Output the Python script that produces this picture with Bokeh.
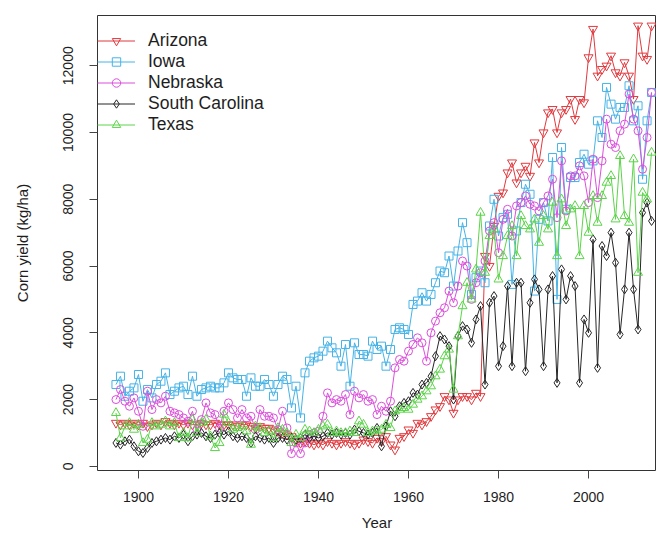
from bokeh.plotting import figure
from bokeh.models import Range1d, FixedTicker
from bokeh.embed import file_html
from bokeh.resources import INLINE

YEARS = list(range(1895, 2015))

ARIZONA = [
    1300, 1250, 1300, 1250, 1300, 1250, 1300, 1200, 1250, 1300,
    1250, 1350, 1300, 1250, 1300, 1250, 1300, 1250, 1250, 1300,
    1250, 1250, 1300, 1250, 1250, 1250, 1250, 1200, 1250, 1250,
    1200, 1150, 1200, 1150, 1150, 1100, 1050, 1000, 950, 900,
    750, 700, 750, 700, 650, 700, 650, 750, 700, 650,
    700, 750, 700, 650, 700, 800, 750, 700, 850, 750,
    900, 650, 500, 850, 900, 1100, 1000, 1300, 1250, 1350,
    1500, 1700, 1800, 2100, 2000, 1600, 2000, 2100, 2100, 2000,
    2200, 2100, 6300, 6000, 7200, 8100, 8200, 8800, 9100, 8500,
    8800, 9000, 8700, 9700, 9100, 10000, 10600, 10700, 10000, 10600,
    10700, 11000, 10400, 11000, 10900, 12250, 13100, 11700, 11900, 12000,
    12300, 11800, 11700, 12100, 11700, 11000, 13200, 12300, 12200, 13200,
]

IOWA = [
    2450, 2700, 2100, 2250, 2350, 2750, 1950, 2300, 2050, 2450,
    2550, 2800, 2150, 2250, 2350, 2400, 2150, 2700, 2100, 2300,
    2350, 2400, 2350, 2350, 2500, 2800, 2650, 2600, 2600, 2100,
    2650, 2400, 2400, 2600, 2450, 2100, 2450, 2700, 2600, 1750,
    2400, 1450, 2800, 3150, 3250, 3300, 3450, 3750, 3550, 3400,
    3000, 3650, 2400, 3700, 3350, 3350, 3300, 3750, 3500, 3600,
    3000, 3500, 4100, 4150, 4100, 3950, 4850, 4950, 5200, 4950,
    5150, 5500, 5850, 5800, 6300, 5400, 6450, 7300, 6700, 5150,
    5650, 5850, 5500, 7200, 8000, 6900, 7450, 7550, 5450, 7050,
    7900, 8450, 8150, 5250, 7400, 7900, 7350, 9250, 5000, 9550,
    7700, 8650, 8650, 9100, 9350, 9050, 9150, 10350, 9850, 11350,
    10850, 10400, 10750, 10750, 11400, 10350, 10800, 8600, 10350, 11200,
]

NEBRASKA = [
    2000, 2300, 1950, 1800, 2050, 1650, 1200, 2250, 1700, 2000,
    1900, 2100, 1650, 1600, 1550, 1450, 1350, 1650, 1100, 1400,
    1900, 1600, 1550, 1150, 1650, 1900, 1700, 1450, 1700, 1450,
    1500, 1100, 1700, 1500, 1500, 1450, 1100, 1650, 1150, 380,
    700, 380, 700, 950, 1000, 1050, 1500, 2200, 1900, 2000,
    1950, 2150, 1550, 2250, 2050, 2150, 1950, 2000, 1550, 1800,
    1650, 1950, 2950, 3200, 3150, 3450, 3650, 3850, 3700, 3150,
    4000, 4350, 4600, 4750, 5250, 4900, 5400, 6150, 6000, 5000,
    5500, 5800, 6150, 7050, 7300, 6400, 7400, 7700, 6900, 7800,
    7900, 8100, 7850, 7800, 7650, 7900, 8100, 8600, 7450, 9150,
    7650, 8700, 8700, 9000, 8700, 7900, 9200, 8050, 9150, 10400,
    9650, 9550, 10050, 10250, 11150, 10400, 10050, 8900, 9850, 11200,
]

SOUTH_CAROLINA = [
    700, 650, 750, 800, 600, 450, 400, 550, 700, 750,
    800, 850, 800, 900, 850, 950, 750, 900, 950, 1000,
    900, 850, 950, 1000, 950, 1050, 900, 850, 900, 850,
    700, 900, 850, 800, 850, 700, 850, 850, 800, 850,
    800, 850, 950, 850, 900, 850, 900, 1000, 950, 1000,
    950, 1000, 950, 1100, 1050, 1000, 950, 1000, 1150, 600,
    1200, 1650, 1500, 1800, 1900, 1950, 2200, 2150, 2450, 2500,
    2700, 3300, 3900, 3800, 3600, 2000, 3900, 4200, 4100, 3700,
    4400, 4800, 2450, 4900, 5100, 3000, 3600, 5400, 3000, 5500,
    5500, 2850, 4900, 5600, 5300, 3000, 5300, 5700, 2500, 5900,
    5000, 5700, 5400, 2500, 4400, 4000, 6800, 2950, 6600, 6300,
    7000, 6100, 3950, 5300, 7000, 5300, 4100, 7600, 7900, 7350,
]

TEXAS = [
    1600, 850, 1200, 1300, 1100, 1250, 700, 800, 1300, 1200,
    1250, 1350, 1200, 1300, 850, 1000, 850, 1400, 1000, 1300,
    1400, 900, 550, 700, 1550, 1300, 1100, 1150, 1200, 1050,
    650, 1200, 1150, 1000, 1050, 850, 1150, 1100, 1000, 700,
    950, 850, 1100, 1050, 1000, 1100, 1200, 1250, 1000, 1050,
    1000, 1000, 1050, 1000, 1350, 1250, 1000, 1050, 1050, 1100,
    1250, 1150, 1650, 1700, 1750, 1700, 1850, 2000, 2100, 2250,
    2400, 2700, 2900, 3300, 3500, 2300, 3900, 4800, 5500, 5000,
    5900, 7600, 5800, 6900, 7100, 5600, 6300, 6900, 7200, 6300,
    7500, 7200, 7100, 7400, 6700, 7500, 7100, 7900, 6300, 8000,
    7200, 7700, 7800, 6300, 7800, 7000, 8100, 7300, 8100, 8500,
    8700, 7400, 9300, 7500, 7300, 9200, 5800, 8200, 8000, 9400,
]

X_TICKS = [1900, 1920, 1940, 1960, 1980, 2000]
Y_TICKS = [0, 2000, 4000, 6000, 8000, 10000, 12000]

SERIES = [
    ("Arizona", ARIZONA, "#E0393E", "inverted_triangle", 9),
    ("Iowa", IOWA, "#45B3E7", "square", 8),
    ("Nebraska", NEBRASKA, "#DB4FDB", "circle", 8),
    ("South Carolina", SOUTH_CAROLINA, "#262626", "diamond", 9),
    ("Texas", TEXAS, "#5CD44A", "triangle", 9),
]

FONT = "Liberation Sans"
TXT = "#1e1e1e"

p = figure(
    width=656, height=534,
    output_backend="svg", toolbar_location=None,
    x_range=Range1d(1890.9, 2015.1), y_range=Range1d(-125, 13505),
    min_border_left=97, min_border_right=0, min_border_top=15, min_border_bottom=64,
    background_fill_color="white", border_fill_color="white",
)
p.outline_line_color = "#333333"
p.outline_line_width = 1
p.xgrid.visible = False
p.ygrid.visible = False

for ax, ticks in ((p.xaxis[0], X_TICKS), (p.yaxis[0], Y_TICKS)):
    ax.ticker = FixedTicker(ticks=ticks)
    ax.minor_tick_line_color = None
    ax.axis_line_color = None
    ax.major_tick_out = 8
    ax.major_tick_in = 0
    ax.major_tick_line_color = "#444444"
    ax.major_label_text_font = FONT
    ax.major_label_text_font_size = "14px"
    ax.major_label_text_color = TXT
    ax.axis_label_text_font = FONT
    ax.axis_label_text_font_size = "15px"
    ax.axis_label_text_font_style = "normal"
    ax.axis_label_text_color = TXT

p.xaxis.axis_label = "Year"
p.yaxis.axis_label = "Corn yield (kg/ha)"
p.xaxis.major_label_standoff = 13
p.xaxis.axis_label_standoff = 9
p.yaxis.major_label_standoff = 16
p.yaxis.axis_label_standoff = 30
p.yaxis.major_label_orientation = "vertical"

for name, vals, color, marker, msize in SERIES:
    p.line(YEARS, vals, line_color=color, line_width=1, legend_label=name)
    p.scatter(YEARS, vals, marker=marker, size=msize, line_color=color,
              fill_color=None, line_width=1, legend_label=name)

lg = p.legend[0]
lg.location = (0, 335)
lg.margin = 0
lg.padding = 0
lg.spacing = 0
lg.glyph_height = 21
lg.label_height = 21
lg.glyph_width = 38
lg.label_standoff = 13
lg.label_text_font = FONT
lg.label_text_font_size = "17.5px"
lg.label_text_color = TXT
lg.background_fill_alpha = 0
lg.border_line_alpha = 0

open("out.html", "w").write(file_html(p, INLINE))
